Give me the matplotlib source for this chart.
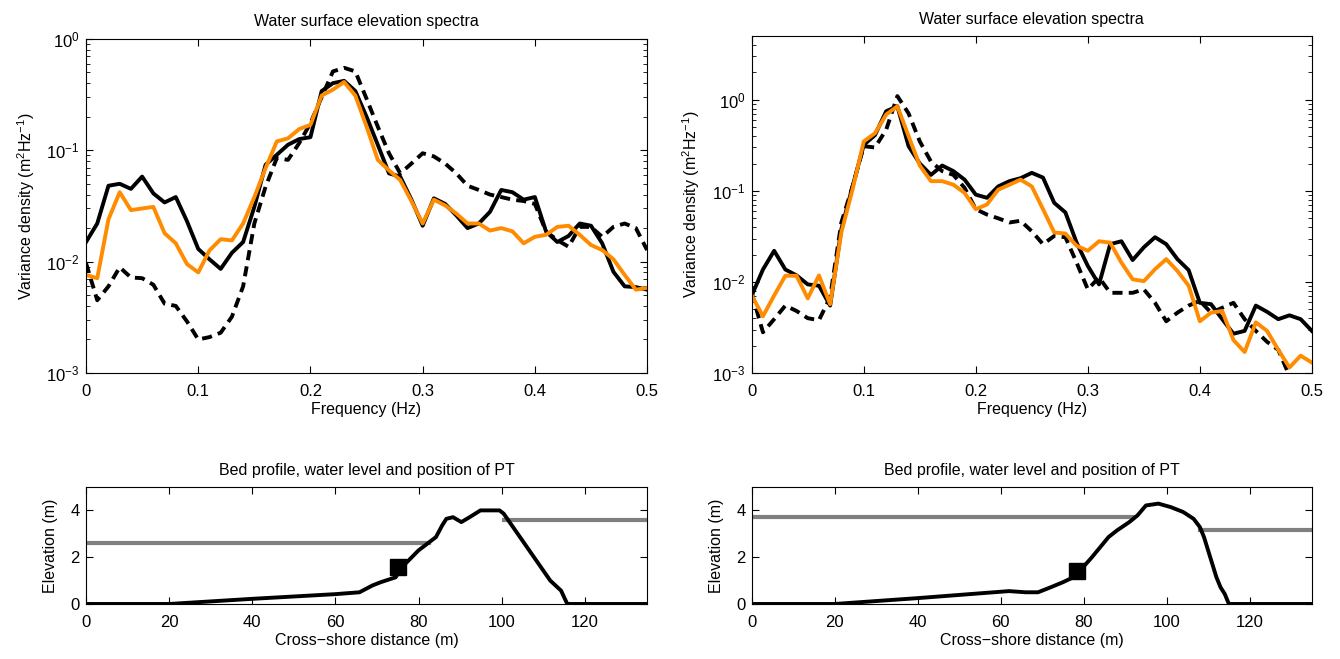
import matplotlib
matplotlib.use('Agg')
import matplotlib.pyplot as plt
import numpy as np

plt.rcParams['font.family'] = ['Liberation Sans', 'DejaVu Sans']
plt.rcParams['mathtext.fontset'] = 'custom'
plt.rcParams['mathtext.rm'] = 'Liberation Sans'
plt.rcParams['font.size'] = 11.5

freq = np.round(np.arange(0, 0.501, 0.01), 2)

# left spectra
left_solid = [0.015, 0.022, 0.048, 0.050, 0.045, 0.058, 0.041, 0.034, 0.038, 0.023,
              0.013, 0.0105, 0.0086, 0.012, 0.015, 0.031, 0.074, 0.091, 0.112, 0.126,
              0.131, 0.34, 0.40, 0.42, 0.34, 0.20, 0.112, 0.062, 0.058, 0.036,
              0.021, 0.037, 0.033, 0.026, 0.020, 0.022, 0.028, 0.044, 0.042, 0.036,
              0.038, 0.0186, 0.015, 0.017, 0.022, 0.021, 0.0146, 0.0081, 0.0060, 0.0059,
              0.0056]
left_orange = [0.0076, 0.0071, 0.024, 0.042, 0.029, 0.030, 0.031, 0.018, 0.0146, 0.0095,
               0.0080, 0.0126, 0.0159, 0.0155, 0.022, 0.038, 0.069, 0.12, 0.128, 0.155,
               0.169, 0.31, 0.35, 0.41, 0.31, 0.163, 0.082, 0.066, 0.054, 0.035,
               0.022, 0.036, 0.032, 0.027, 0.022, 0.022, 0.019, 0.020, 0.0187, 0.0146,
               0.0167, 0.0174, 0.0205, 0.021, 0.0174, 0.0141, 0.0127, 0.0105, 0.0076, 0.0056,
               0.0058]
left_dashed = [0.0097, 0.0045, 0.0060, 0.0089, 0.0072, 0.0071, 0.0062, 0.0042, 0.0040, 0.0029,
               0.0020, 0.0021, 0.0023, 0.0032, 0.0060, 0.022, 0.047, 0.085, 0.082, 0.116,
               0.175, 0.30, 0.51, 0.55, 0.51, 0.29, 0.163, 0.094, 0.062, 0.076,
               0.094, 0.088, 0.076, 0.062, 0.048, 0.044, 0.040, 0.038, 0.036, 0.035,
               0.033, 0.0186, 0.0156, 0.0136, 0.0205, 0.0205, 0.0167, 0.0205, 0.022, 0.020,
               0.0127]

# right spectra
right_solid = [0.0071, 0.0137, 0.022, 0.0137, 0.0118, 0.0094, 0.0091, 0.0055, 0.038, 0.112,
               0.32, 0.41, 0.75, 0.85, 0.31, 0.20, 0.15, 0.19, 0.165, 0.133,
               0.091, 0.084, 0.112, 0.128, 0.138, 0.158, 0.140, 0.074, 0.058, 0.027,
               0.015, 0.0094, 0.026, 0.028, 0.0174, 0.024, 0.031, 0.026, 0.0178, 0.0135,
               0.0059, 0.0057, 0.0039, 0.0027, 0.0029, 0.0055, 0.0047, 0.0039, 0.0043, 0.0039,
               0.0029]
right_orange = [0.0071, 0.0042, 0.0071, 0.0117, 0.0117, 0.0066, 0.0118, 0.0057, 0.035, 0.104,
                0.35, 0.43, 0.69, 0.85, 0.40, 0.19, 0.128, 0.128, 0.117, 0.095,
                0.063, 0.071, 0.103, 0.117, 0.133, 0.112, 0.063, 0.035, 0.034, 0.025,
                0.022, 0.028, 0.027, 0.0163, 0.0107, 0.0102, 0.0138, 0.0178, 0.0132, 0.0091,
                0.0037, 0.0046, 0.0048, 0.0023, 0.0017, 0.0036, 0.0029, 0.0018, 0.00115, 0.00155,
                0.0013]
right_dashed = [0.0076, 0.0028, 0.0039, 0.0055, 0.0048, 0.0040, 0.0038, 0.0068, 0.045, 0.112,
                0.31, 0.30, 0.47, 1.1, 0.71, 0.35, 0.21, 0.165, 0.15, 0.108,
                0.063, 0.055, 0.050, 0.045, 0.047, 0.036, 0.026, 0.032, 0.031, 0.0163,
                0.0083, 0.0112, 0.0076, 0.0076, 0.0076, 0.0083, 0.0059, 0.0037, 0.0046, 0.0055,
                0.0062, 0.0046, 0.0052, 0.0059, 0.0039, 0.0029, 0.0022, 0.0018, 0.00093, 0.0007,
                0.0006]

# bed profiles
left_bed_x = [0, 20, 40, 60, 65.8, 68.9, 70.9, 74.5, 76, 80, 84.2, 85.7, 86.7, 88.3, 90.3,
              92.3, 94.9, 99.5, 100.5, 111.7, 114.3, 115.8, 135]
left_bed_z = [0, 0, 0.22, 0.42, 0.5, 0.79, 0.93, 1.14, 1.57, 2.29, 2.86, 3.36, 3.64, 3.71, 3.5,
              3.71, 4.0, 4.0, 3.86, 1.0, 0.57, 0, 0]
left_wl = [(0, 82.5, 2.6), (100.5, 135, 3.6)]
left_pt = (75, 1.57)

right_bed_x = [0, 20, 40, 62, 66, 69, 72, 75, 77.5, 79, 82, 84, 86, 88, 91, 93, 95, 98, 101,
               104, 106.5, 108, 109, 110.5, 112, 113, 114, 115, 135]
right_bed_z = [0, 0, 0.25, 0.55, 0.5, 0.5, 0.71, 0.93, 1.14, 1.4, 2.0, 2.43, 2.86, 3.14, 3.5,
               3.79, 4.21, 4.29, 4.14, 3.93, 3.64, 3.29, 2.86, 2.0, 1.14, 0.71, 0.43, 0, 0]
right_wl = [(0, 92, 3.7), (108, 135, 3.15)]
right_pt = (78.5, 1.4)

orange = '#ff8c00'
gray = '#808080'

fig = plt.figure(figsize=(13.4, 6.59), dpi=100)


def style(ax):
    ax.tick_params(which='both', direction='in', top=True, right=True, labelsize=12)
    ax.tick_params(which='major', length=5)
    ax.tick_params(which='minor', length=3)
    ax.tick_params(axis='x', which='both', pad=8)
    ax.tick_params(axis='y', which='both', pad=4.5)


def spectrum(pos, solid, dashed, orng, ylim):
    ax = fig.add_axes(pos)
    ax.plot(freq, solid, color='k', lw=2.8)
    ax.plot(freq, dashed, color='k', lw=2.8, linestyle=(0, (2.6, 1.6)))
    ax.plot(freq, orng, color=orange, lw=2.8)
    ax.set_yscale('log')
    ax.set_xlim(0, 0.5)
    ax.set_ylim(*ylim)
    ax.set_yticks([1e-3, 1e-2, 1e-1, 1e0])
    ax.set_xticks([0, 0.1, 0.2, 0.3, 0.4, 0.5])
    ax.set_xticklabels(['0', '0.1', '0.2', '0.3', '0.4', '0.5'])
    ax.set_xlabel('Frequency (Hz)', labelpad=2)
    ax.set_ylabel('Variance density (m$^2$Hz$^{-1}$)', labelpad=7)
    ax.set_title('Water surface elevation spectra', fontsize=11.5, pad=9)
    style(ax)
    return ax


def profile(pos, bx, bz, wl, pt):
    ax = fig.add_axes(pos)
    for x0, x1, z in wl:
        ax.plot([x0, x1], [z, z], color=gray, lw=3)
    ax.plot(bx, bz, color='k', lw=2.8)
    ax.plot(pt[0], pt[1], 's', color='k', markersize=12)
    ax.set_xlim(0, 135)
    ax.set_ylim(0, 5)
    ax.set_xticks([0, 20, 40, 60, 80, 100, 120])
    ax.set_yticks([0, 2, 4])
    ax.set_xlabel('Cross\u2212shore distance (m)', labelpad=2)
    ax.set_ylabel('Elevation (m)', labelpad=9)
    ax.set_title('Bed profile, water level and position of PT', fontsize=11.5, pad=9)
    style(ax)
    return ax


spectrum([0.0642, 0.434, 0.4187, 0.507], left_solid, left_dashed, left_orange, (1e-3, 1))
spectrum([0.561, 0.434, 0.418, 0.511], right_solid, right_dashed, right_orange, (1e-3, 5))
profile([0.0642, 0.0835, 0.4187, 0.1775], left_bed_x, left_bed_z, left_wl, left_pt)
profile([0.561, 0.0835, 0.418, 0.1775], right_bed_x, right_bed_z, right_wl, right_pt)

fig.savefig('out.png', dpi=100)
